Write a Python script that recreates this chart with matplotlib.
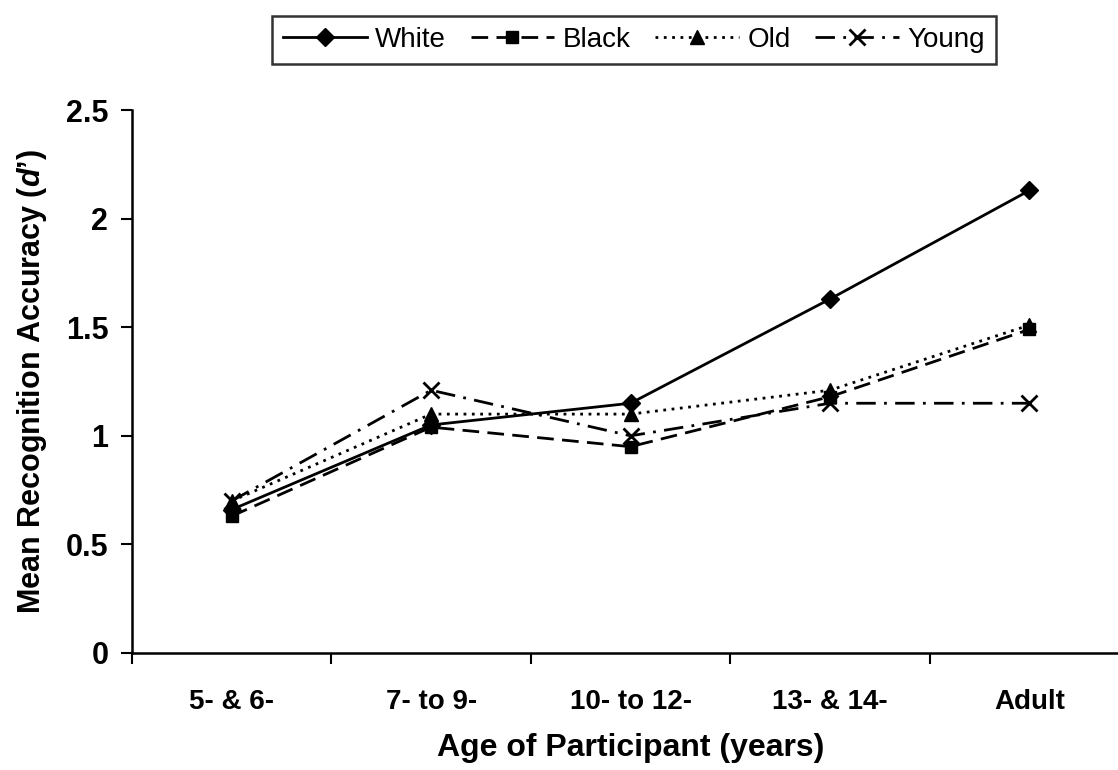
import matplotlib.pyplot as plt

plt.rcParams['font.family'] = ['Liberation Sans', 'DejaVu Sans']
plt.rcParams['mathtext.fontset'] = 'custom'
plt.rcParams['mathtext.it'] = 'Liberation Sans:italic:bold'
plt.rcParams['mathtext.rm'] = 'Liberation Sans:bold'

# data
ages = ['5- & 6-', '7- to 9-', '10- to 12-', '13- & 14-', 'Adult']
white = [0.66, 1.05, 1.15, 1.63, 2.13]
black = [0.63, 1.04, 0.95, 1.18, 1.49]
old = [0.70, 1.10, 1.10, 1.21, 1.51]
young = [0.70, 1.21, 1.00, 1.15, 1.15]

x = list(range(len(ages)))

fig = plt.figure(figsize=(11.18, 7.70), dpi=100)
ax = fig.add_axes([0.118, 0.152, 0.892, 0.705])

ax.plot(x, white, color='black', lw=2, ls='-', marker='D', ms=9, label='White')
ax.plot(x, black, color='black', lw=2, ls=(0, (6, 3)), marker='s', ms=8, label='Black')
ax.plot(x, old, color='black', lw=2, ls=(0, (1, 2)), marker='^', ms=10, label='Old')
ax.plot(x, young, color='black', lw=2, ls=(0, (7, 3, 1, 3)), marker='x', ms=11, mew=2, label='Young')

ax.set_xlim(-0.5, 4.5)
ax.set_ylim(0, 2.5)
ax.set_yticks([0, 0.5, 1, 1.5, 2, 2.5])
ax.set_yticklabels(['0', '0.5', '1', '1.5', '2', '2.5'])
ax.set_xticks(x)
ax.set_xticklabels(ages)
ax.set_xticks([-0.5, 0.5, 1.5, 2.5, 3.5, 4.5], minor=True)
ax.tick_params(axis='x', which='major', length=0, pad=26, labelsize=20)
ax.tick_params(axis='x', which='minor', length=8, width=1.5, direction='out')
ax.tick_params(axis='y', length=8, width=1.5, direction='out', labelsize=22, pad=9)
for lab in ax.get_xticklabels() + ax.get_yticklabels():
    lab.set_fontweight('bold')

ax.spines['top'].set_visible(False)
ax.spines['right'].set_visible(False)
ax.spines['left'].set_linewidth(1.8)
ax.spines['bottom'].set_linewidth(1.8)

ax.set_xlabel('Age of Participant (years)', fontsize=23, fontweight='bold', labelpad=13)
ax.set_ylabel("Mean Recognition Accuracy ($\\mathit{d}$’)", fontsize=22, fontweight='bold', labelpad=12)

leg = fig.legend(loc='center', bbox_to_anchor=(0.567, 0.948), ncol=4, fontsize=20,
                 frameon=True, fancybox=False, edgecolor='black', handlelength=3,
                 columnspacing=0.9, handletextpad=0.3, borderpad=0.4)
leg.get_frame().set_linewidth(1.8)

fig.savefig('out.png', dpi=100)
